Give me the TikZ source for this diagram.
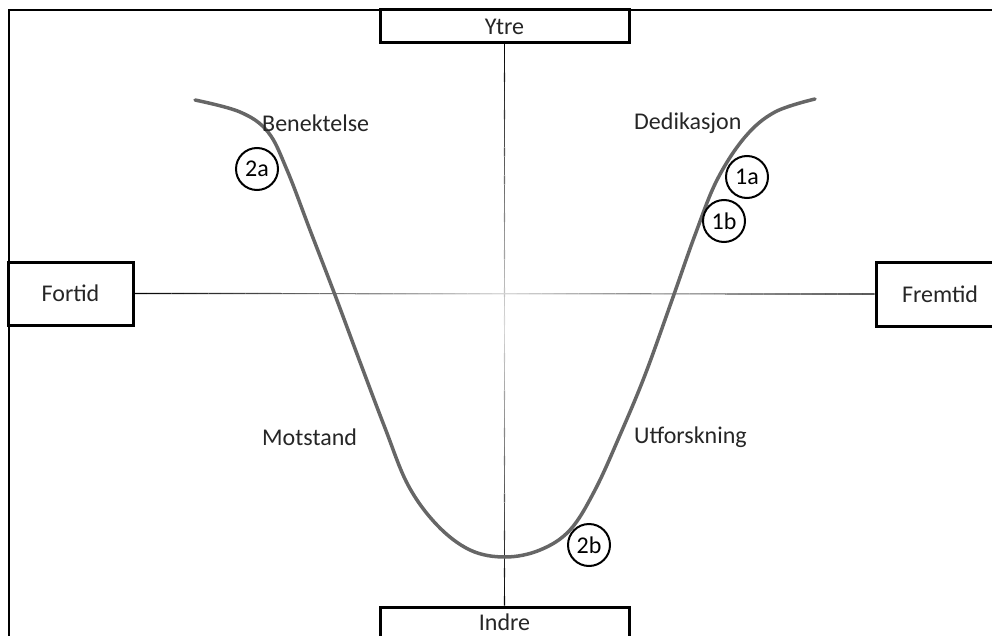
\documentclass[tikz,border=0pt]{standalone}
\usepackage{fontspec}
\setmainfont{Carlito}
\usetikzlibrary{calc}
\begin{document}
\begin{tikzpicture}[x=1pt,y=-1pt,
  axbox/.style={draw=black,line width=3pt,fill=white,inner sep=0pt,font=\fontsize{24}{28}\selectfont,text=black!85},
  stage/.style={font=\fontsize{24}{28}\selectfont,text=black!85,anchor=west,inner sep=0pt},
  markcirc/.style={circle,draw=black,line width=2pt,minimum size=42pt,inner sep=0pt,font=\fontsize{24}{28}\selectfont},
  curve/.style={draw=black!60,line width=3.5pt,line cap=round},
  axseg/.style={line width=1.2pt}]
\useasboundingbox (0,0) rectangle (992,636);
\clip (0,0) rectangle (992,636);
\draw[line width=1.5pt] (9,660) -- (9,10) -- (1010,10);
% boxes
\node[axbox,minimum width=249pt,minimum height=33pt] (ytre) at (504.5,26.5) {Ytre};
\node[axbox,minimum width=249pt,minimum height=40pt] (indre) at (504.5,627) {};
\node[font=\fontsize{24}{28}\selectfont,text=black!85,inner sep=0pt] (indrelbl) at (504.5,622) {Indre};
\node[axbox,minimum width=125pt,minimum height=63pt] (fortid) at (70.5,293.5) {Fortid};
\node[axbox,minimum width=128pt,minimum height=64pt] (fremtid) at (940,294) {Fremtid};
% axes with fading toward the centre
\foreach \i in {0,...,59}{
  \pgfmathsetmacro\axta{\i/60}
  \pgfmathsetmacro\axtb{(\i+1)/60}
  \pgfmathsetmacro\axp{int(15+85*abs((\i+0.5)/60-0.5)*2)}
  \draw[axseg,black!\axp] ($(fortid.east)!\axta!(fremtid.west)$) -- ($(fortid.east)!\axtb!(fremtid.west)$);
  \draw[axseg,black!\axp] ($(ytre.south)!\axta!(indre.north)$) -- ($(ytre.south)!\axtb!(indre.north)$);
}
% curve
\draw[curve] plot[smooth,tension=0.6] coordinates {
 (195,100) (240,112) (268,132) (287,170) (310,230) (335,295) (360,362) (385,428)
 (408,485) (437,525) (470,550) (505,557) (540,550) (570,530) (595,490) (620,435)
 (645,375) (672,300) (695,235) (717,180) (745,137) (775,112) (815,99)};
% labels
\node[stage] (ben) at (262,123) {Benektelse};
\node[stage] (ded) at (634,123) {Dedikasjon};
\node[stage] (mot) at (262,437) {Motstand};
\node[stage] (utf) at (634,437) {Utforskning};
% markers
\node[markcirc,fill=white] (m2a) at (257,169) {2a};
\node[markcirc] (m1a) at (747,177) {1a};
\node[markcirc] (m1b) at (724,221) {1b};
\node[markcirc] (m2b) at (589,545) {2b};
\end{tikzpicture}
\end{document}
